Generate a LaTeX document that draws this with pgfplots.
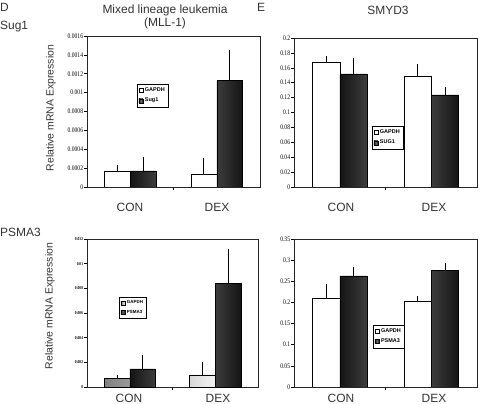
\documentclass[border=0pt]{standalone}
\usepackage{fontspec}
\setmainfont{Liberation Sans}
\newfontfamily\tickfont{Liberation Serif}
\usepackage{pgfplots}
\pgfplotsset{compat=1.18}
\definecolor{txt}{HTML}{333333}
\pgfplotsset{
  myax/.style={
    scale only axis, ybar, bar width=0.3,
    xmin=0.5, xmax=2.5, ymin=0,
    xtick={1.5}, xticklabels={},
    xtick pos=bottom, ytick pos=left,
    scaled y ticks=false,
    tick align=outside, major tick length=3bp,
    axis line style={black!85, line width=0.6pt},
    tick style={black, line width=0.5pt},
    yticklabel style={font=\tickfont\fontsize{7}{8}\selectfont, xscale=0.8, inner sep=1pt},
    /pgf/number format/assume math mode=true,
    error bars/y dir=plus, error bars/y explicit,
    error bars/error bar style={black, line width=0.6pt},
    error bars/error mark options={black, mark size=2bp, line width=0.6pt},
    legend style={font=\fontsize{5.5}{6}\selectfont\bfseries, inner sep=1.5pt,
      draw=black, line width=0.4pt, cells={anchor=west}, row sep=1pt, anchor=north west},
    legend image code/.code={\draw[##1, line width=0.3pt] (0bp,-2bp) rectangle (4bp,2bp);},
  },
  wbar/.style={fill=white, draw=black, line width=0.5pt, bar shift=-0.15},
  dbar/.style={draw=black, line width=0.5pt, bar shift=0.15, left color=black!92, right color=black!92, middle color=black!58},
  gbar/.style={draw=black, line width=0.5pt, bar shift=-0.15, left color=black!50, right color=black!5},
}
\begin{document}
\begin{tikzpicture}
\path (0bp,0bp) rectangle (480bp,404bp);
% ---------- top left ----------
\begin{axis}[myax, at={(87bp,217bp)}, anchor=south west, width=173bp, height=151bp,
  ymax=0.0016,
  ytick={0,0.0002,0.0004,0.0006,0.0008,0.001,0.0012,0.0014,0.0016},
  yticklabels={0,0.0002,0.0004,0.0006,0.0008,0.001,0.0012,0.0014,0.0016},
  legend style={at={(0.289,0.682)}}]
\addplot[wbar] coordinates {(1,0.00017) +- (0,0.00004) (2,0.00013) +- (0,0.000154)};
\addplot[dbar] coordinates {(1,0.00017) +- (0,0.00013) (2,0.00113) +- (0,0.0003)};
\legend{GAPDH,Sug1}
\end{axis}
% ---------- top right ----------
\begin{axis}[myax, at={(294bp,217bp)}, anchor=south west, width=183bp, height=149bp,
  ymax=0.2,
  ytick={0,0.02,0.04,0.06,0.08,0.1,0.12,0.14,0.16,0.18,0.2},
  yticklabels={0,0.02,0.04,0.06,0.08,0.1,0.12,0.14,0.16,0.18,0.2},
  legend style={at={(0.426,0.409)}}]
\addplot[wbar] coordinates {(1,0.168) +- (0,0.005) (2,0.148) +- (0,0.014)};
\addplot[dbar] coordinates {(1,0.152) +- (0,0.018) (2,0.1235) +- (0,0.008)};
\legend{GAPDH,SUG1}
\end{axis}
% ---------- bottom left ----------
\begin{axis}[myax, at={(87bp,17bp)}, anchor=south west, width=171bp, height=148bp,
  ymax=0.012,
  ytick={0,0.002,0.004,0.006,0.008,0.01,0.012},
  yticklabels={0,0.002,0.004,0.006,0.008,0.01,0.012},
  yticklabel style={font=\tickfont\fontsize{4.5}{5}\selectfont\bfseries},
  legend style={at={(0.187,0.608)}, font=\fontsize{4.5}{5}\selectfont\bfseries}]
\addplot[gbar] coordinates {(1,0.0007) +- (0,0.00015) (2,0.00098) +- (0,0.0009)};
\addplot[dbar] coordinates {(1,0.00146) +- (0,0.00098) (2,0.00843) +- (0,0.0026)};
\legend{GAPDH,PSMA3}
\end{axis}
% ---------- bottom right ----------
\begin{axis}[myax, at={(294bp,17bp)}, anchor=south west, width=183bp, height=148bp,
  ymax=0.35,
  ytick={0,0.05,0.1,0.15,0.2,0.25,0.3,0.35},
  yticklabels={0,0.05,0.1,0.15,0.2,0.25,0.3,0.35},
  legend style={at={(0.432,0.419)}}]
\addplot[wbar] coordinates {(1,0.21) +- (0,0.028) (2,0.203) +- (0,0.007)};
\addplot[dbar] coordinates {(1,0.263) +- (0,0.016) (2,0.275) +- (0,0.014)};
\legend{GAPDH,PSMA3}
\end{axis}
% ---------- texts ----------
\begin{scope}[x=1bp, y=1bp, every node/.style={text=txt, font=\fontsize{12}{14}\selectfont, inner sep=0pt}]
\node[anchor=north west] at (0,401) {D};
\node[anchor=west] at (0,377) {Sug1};
\node at (165,394) {Mixed lineage leukemia};
\node at (165,381) {(MLL-1)};
\node[anchor=north west] at (257,401) {E};
\node at (388,394) {SMYD3};
\node[anchor=west] at (0,172) {PSMA3};
\node at (130,197) {CON};
\node at (217,197) {DEX};
\node at (341,197) {CON};
\node at (434,197) {DEX};
\node at (129,6) {CON};
\node at (218,6) {DEX};
\node at (341,6) {CON};
\node at (434,6) {DEX};
\node[rotate=90, font=\fontsize{10.5}{12}\selectfont] at (51,296) {Relative mRNA Expression};
\node[rotate=90, font=\fontsize{10.5}{12}\selectfont] at (50,98) {Relative mRNA Expression};
\end{scope}
\end{tikzpicture}
\end{document}
